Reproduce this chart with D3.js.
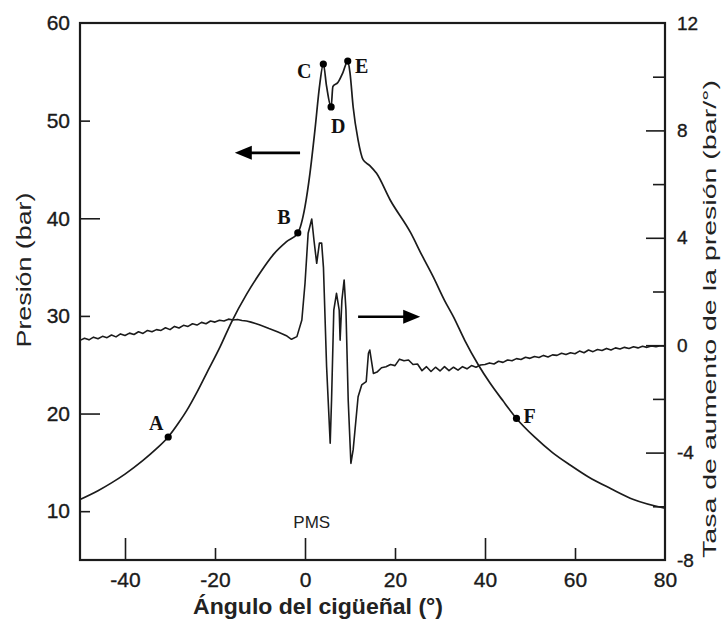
<!DOCTYPE html>
<html>
<head>
<meta charset="utf-8">
<script src="https://cdn.jsdelivr.net/npm/d3@7"></script>
<style>
  body { margin: 0; background: #fff; }
  svg { display: block; }
</style>
</head>
<body>
<svg id="chart"></svg>
<script>
// ─── Data ───────────────────────────────────────────────────

// cylinder pressure (bar) vs crank angle (deg)
const pressureCurve = [
  [-50, 11.2], [-46, 12.1], [-43, 12.9], [-40, 13.8], [-36, 15.2], [-33, 16.4],
  [-30.4, 17.6], [-28, 19.1], [-26.3, 20.3], [-24, 22.2], [-21.9, 24.1], [-18.9, 26.8],
  [-16.3, 29.4], [-13, 32.2], [-10, 34.4], [-7, 36.3], [-4.1, 37.6], [-1.6, 38.5],
  [0, 41.2], [1.1, 44.6], [2.2, 49.0], [3.3, 53.8], [4.07, 55.8], [4.8, 53.5],
  [5.8, 51.4], [6.2, 53.5], [7.3, 53.9], [8.4, 54.9], [9.5, 56.1], [10.0, 54.9],
  [10.7, 51.4], [11.8, 48.0], [12.9, 46.0], [14.4, 45.4], [15.9, 44.6], [18.9, 41.9],
  [23.5, 38.5], [26, 36.2], [28.5, 34.0], [31, 31.6], [33, 29.9], [35.5, 27.5],
  [38.5, 25.0], [41, 23.2], [44, 21.3], [47, 19.5], [51, 17.6], [55, 16.0],
  [59, 14.7], [63, 13.5], [68, 12.3], [73, 11.2], [80, 10.3]
];

// rate of pressure rise (bar/deg) vs crank angle (deg)
const rateCurve = [
  [-50, 0.18], [-49, 0.26], [-48, 0.20], [-47, 0.30], [-46, 0.24], [-45, 0.33],
  [-44, 0.28], [-43, 0.38], [-42, 0.31], [-41, 0.42], [-40, 0.36], [-39, 0.45],
  [-38, 0.40], [-37, 0.50], [-36, 0.44], [-35, 0.55], [-34, 0.50], [-33, 0.58],
  [-32, 0.55], [-31, 0.65], [-30, 0.58], [-29, 0.70], [-28, 0.64], [-27, 0.74],
  [-26, 0.70], [-25, 0.80], [-24, 0.75], [-23, 0.85], [-22, 0.80], [-21, 0.90],
  [-20, 0.86], [-19, 0.93], [-18, 0.90], [-17, 0.97], [-16, 0.94], [-15, 0.96],
  [-14, 0.92], [-13, 0.90], [-12, 0.86], [-11, 0.81], [-10, 0.75], [-9, 0.69],
  [-8, 0.62], [-7, 0.56], [-6, 0.49], [-5, 0.42], [-4, 0.34], [-3, 0.22],
  [-1.8, 0.32], [-0.7, 0.94], [0, 2.3], [0.7, 4.17], [1.5, 4.7], [2.0, 3.9],
  [2.6, 3.05], [3.2, 3.8], [3.7, 3.8], [4.1, 2.9], [4.8, -0.8], [5.6, -3.65],
  [5.9, -2.04], [6.4, 1.31], [7.0, 1.93], [7.6, 1.31], [7.8, 0.19], [8.2, 1.68],
  [8.7, 2.43], [9.1, 1.31], [9.6, -2.04], [10.2, -4.4], [10.7, -3.9], [11.8, -1.92],
  [12.6, -1.48], [13.6, -1.36], [14.1, -0.3], [14.4, -0.18], [15.2, -1.05], [16, -1.0],
  [17, -0.84], [18, -0.80], [19, -0.72], [20, -0.76], [21, -0.52], [22, -0.58],
  [23, -0.55], [24, -0.72], [25, -0.70], [26, -0.95], [27, -0.80], [28, -0.98],
  [29, -0.82], [30, -0.96], [31, -0.80], [32, -0.95], [33, -0.82], [34, -0.93],
  [35, -0.80], [36, -0.88], [37, -0.76], [38, -0.82], [39, -0.74], [40, -0.72],
  [41, -0.66], [42, -0.70], [43, -0.60], [44, -0.64], [45, -0.55], [46, -0.58],
  [47, -0.50], [48, -0.53], [49, -0.45], [50, -0.49], [51, -0.42], [52, -0.46],
  [53, -0.38], [54, -0.44], [55, -0.36], [56, -0.38], [57, -0.30], [58, -0.35],
  [59, -0.28], [60, -0.32], [61, -0.22], [62, -0.28], [63, -0.18], [64, -0.24],
  [65, -0.16], [66, -0.20], [67, -0.12], [68, -0.18], [69, -0.10], [70, -0.14],
  [71, -0.08], [72, -0.12], [73, -0.06], [74, -0.10], [75, -0.04], [76, -0.08],
  [77, -0.03], [78, -0.06], [79, -0.02], [80, -0.04]
];

// labelled points on the pressure curve
const markerNames = ["A", "B", "C", "D", "E", "F"];
const markerAngles = [-30.4, -1.6, 4.07, 5.8, 9.5, 47];
const markerPressures = [17.6, 38.5, 55.8, 51.4, 56.1, 19.5];

// axis ticks
const angleTicks = [-40, -20, 0, 20, 40, 60, 80];
const pressureTicks = [10, 20, 30, 40, 50, 60];
const rateTicks = [-8, -4, 0, 4, 8, 12];
const rateMinorTicks = [-6, -2, 2, 6, 10];

// arrows: which curve belongs to which axis
const pressureArrow = { from: -1.1, to: -15.6, at: 46.7 };
const rateArrow = { from: 11.8, to: 25.6, at: 1.06 };

// ─── Layout ─────────────────────────────────────────────────
const W = 724, H = 621;
const plotL = 80, plotR = 665, plotT = 23, plotB = 560;
const FONT = "'Liberation Sans', Arial, Helvetica, sans-serif";
const INK = "#1b1b1b";
const plain = d => String(d);   // hyphen minus, like the original

const svg = d3.select("#chart").attr("width", W).attr("height", H);
svg.append("rect").attr("width", W).attr("height", H).attr("fill", "#fff");

const x = d3.scaleLinear().domain([-50, 80]).range([plotL, plotR]);
const yP = d3.scaleLinear().domain([5, 60]).range([plotB, plotT]);
const yR = d3.scaleLinear().domain([-8, 12]).range([plotB, plotT]);

// ─── Axes ───────────────────────────────────────────────────

// left: pressure
const gLeft = svg.append("g")
  .attr("transform", `translate(${plotL},0)`)
  .call(d3.axisLeft(yP).tickValues(pressureTicks).tickFormat(plain).tickSize(-20).tickPadding(10));
gLeft.selectAll(".tick line")
  .attr("x2", d => (d === 60 ? 0 : (d / 10) % 2 === 0 ? 20 : 10));

// right: rate of rise
const gRight = svg.append("g")
  .attr("transform", `translate(${plotR},0)`)
  .call(d3.axisRight(yR).tickValues(rateTicks).tickFormat(plain).tickSize(-19).tickPadding(12));
gRight.selectAll(".tick line").attr("x2", d => (d === 12 || d === -8 ? 0 : -19));
svg.append("g")
  .attr("transform", `translate(${plotR},0)`)
  .call(d3.axisRight(yR).tickValues(rateMinorTicks).tickSize(-12).tickFormat(""));

// bottom: crank angle
const gBottom = svg.append("g")
  .attr("transform", `translate(0,${plotB})`)
  .call(d3.axisBottom(x).tickValues(angleTicks).tickFormat(plain).tickSize(-22).tickPadding(12));
gBottom.selectAll(".tick line")
  .attr("y2", d => (d === 80 ? 0 : (d / 20) % 2 === 0 ? -22 : -12));

svg.selectAll(".domain").remove();
svg.selectAll(".tick line").attr("stroke", INK).attr("stroke-width", 1.6);
svg.selectAll(".tick text")
  .attr("fill", "#1a1a1a")
  .attr("stroke", "#1a1a1a").attr("stroke-width", 0.35)
  .style("font-family", FONT)
  .style("font-size", "21px");
gRight.selectAll(".tick text").style("font-size", "19px");

// frame
svg.append("rect")
  .attr("x", plotL).attr("y", plotT)
  .attr("width", plotR - plotL).attr("height", plotB - plotT)
  .attr("fill", "none").attr("stroke", INK).attr("stroke-width", 2.2);

// ─── Curves ─────────────────────────────────────────────────
const pressureLine = d3.line()
  .x(d => x(d[0])).y(d => yP(d[1]))
  .curve(d3.curveMonotoneX);
const rateLine = d3.line()
  .x(d => x(d[0])).y(d => yR(d[1]));

svg.append("path")
  .datum(rateCurve)
  .attr("d", rateLine)
  .attr("fill", "none").attr("stroke", INK)
  .attr("stroke-width", 1.6).attr("stroke-linejoin", "round");

svg.append("path")
  .datum(pressureCurve)
  .attr("d", pressureLine)
  .attr("fill", "none").attr("stroke", INK)
  .attr("stroke-width", 1.7).attr("stroke-linejoin", "round");

// ─── Markers A–F ────────────────────────────────────────────
const markerOffset = {
  A: [-12, -14], B: [-14, -16], C: [-19, 7], D: [7, 19], E: [14, 5], F: [13, -2]
};
const markers = markerNames.map((n, i) => ({ name: n, a: markerAngles[i], p: markerPressures[i] }));

const mk = svg.append("g").selectAll("g")
  .data(markers)
  .join("g")
  .attr("transform", d => `translate(${x(d.a)},${yP(d.p)})`);
mk.append("circle").attr("r", 3.6).attr("fill", "#000");
mk.append("text")
  .attr("x", d => markerOffset[d.name][0])
  .attr("y", d => markerOffset[d.name][1])
  .attr("text-anchor", "middle")
  .attr("dominant-baseline", "central")
  .attr("font-family", "'Liberation Serif', 'Times New Roman', serif")
  .attr("font-weight", "bold")
  .attr("font-size", 20)
  .attr("fill", "#111")
  .text(d => d.name);

// ─── Arrows ─────────────────────────────────────────────────
function drawArrow(x1, x2, y) {
  const dir = Math.sign(x2 - x1);
  const headLen = 17, headHalf = 7;
  svg.append("line")
    .attr("x1", x1).attr("x2", x2 - dir * headLen + dir * 2)
    .attr("y1", y).attr("y2", y)
    .attr("stroke", "#000").attr("stroke-width", 2.6);
  svg.append("path")
    .attr("d", `M${x2},${y} L${x2 - dir * headLen},${y - headHalf} L${x2 - dir * headLen},${y + headHalf} Z`)
    .attr("fill", "#000");
}
drawArrow(x(pressureArrow.from), x(pressureArrow.to), yP(pressureArrow.at));
drawArrow(x(rateArrow.from), x(rateArrow.to), yR(rateArrow.at));

// ─── Texts ──────────────────────────────────────────────────
svg.append("text")
  .attr("x", x(1.5)).attr("y", 528)
  .attr("text-anchor", "middle")
  .attr("font-family", FONT).attr("font-size", 17)
  .attr("fill", "#222")
  .text("PMS");

svg.append("text")
  .attr("x", 318).attr("y", 614)
  .attr("text-anchor", "middle")
  .attr("font-family", "'Liberation Sans Narrow', 'Arial Narrow', " + FONT)
  .attr("font-weight", "bold").attr("font-size", 22)
  .attr("textLength", 250).attr("lengthAdjust", "spacingAndGlyphs")
  .attr("fill", "#222")
  .text("Ángulo del cigüeñal (°)");

svg.append("text")
  .attr("transform", "translate(31,270) rotate(-90)")
  .attr("text-anchor", "middle")
  .attr("font-family", FONT).attr("font-size", 21)
  .attr("textLength", 155).attr("lengthAdjust", "spacingAndGlyphs")
  .attr("fill", "#222")
  .text("Presión (bar)");

svg.append("text")
  .attr("transform", "translate(716,319) rotate(-90)")
  .attr("text-anchor", "middle")
  .attr("font-family", FONT).attr("font-size", 18)
  .attr("textLength", 478).attr("lengthAdjust", "spacingAndGlyphs")
  .attr("fill", "#222")
  .text("Tasa de aumento de la presión (bar/°)");
</script>
</body>
</html>
